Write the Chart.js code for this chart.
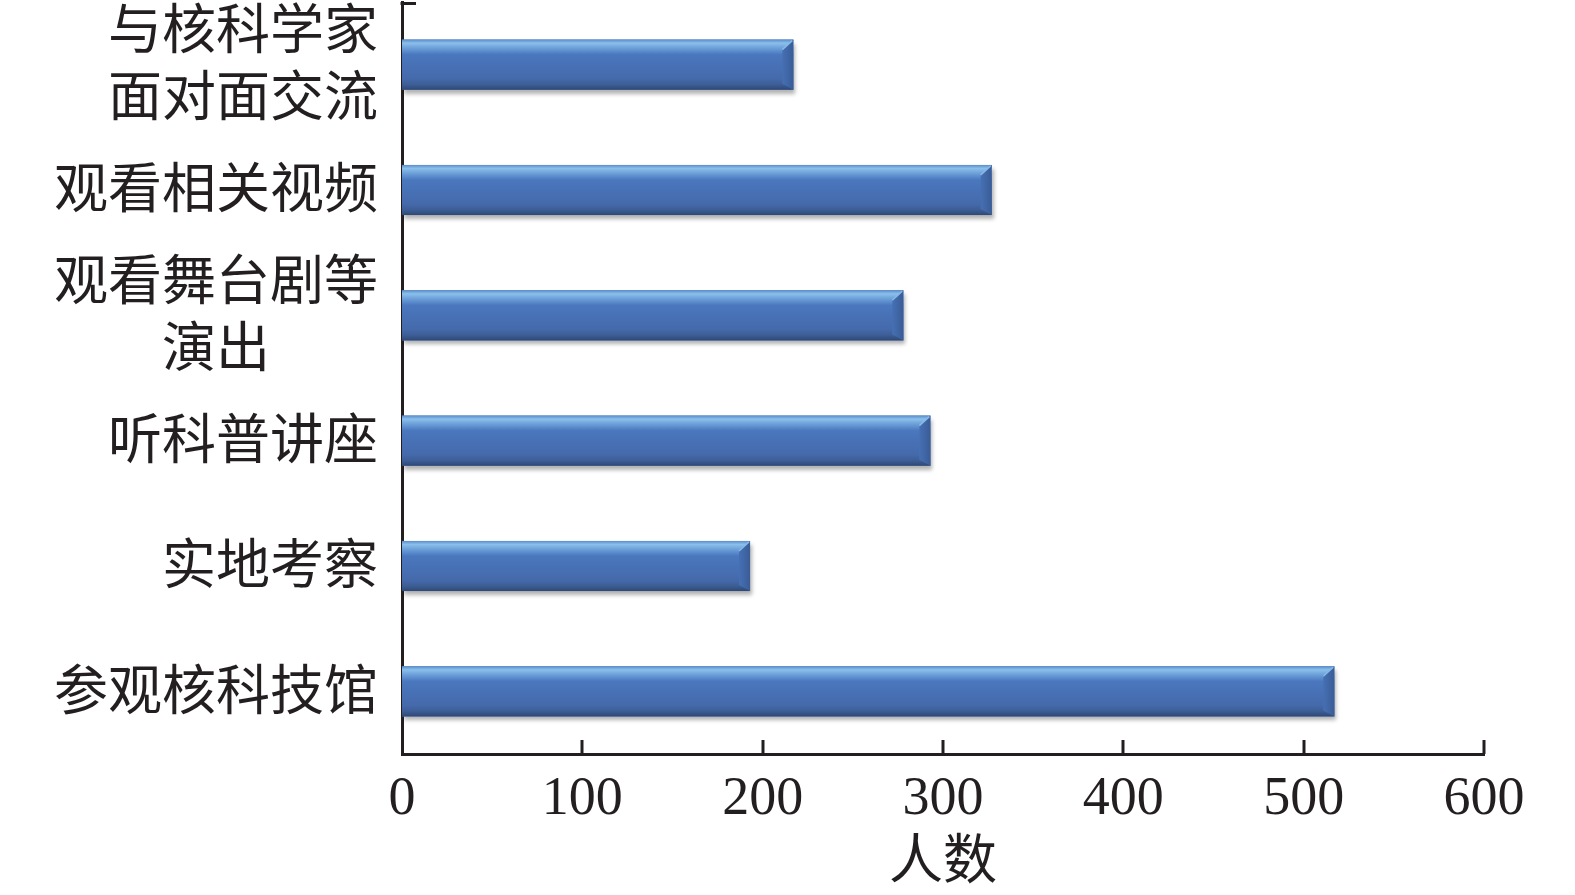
<!DOCTYPE html>
<html>
<head>
<meta charset="utf-8">
<script src="https://cdn.jsdelivr.net/npm/chart.js@4/dist/chart.umd.min.js"></script>
<style>
  html, body { margin: 0; padding: 0; background: #ffffff; }
  #wrap { width: 1575px; height: 895px; position: relative; }
</style>
</head>
<body>
<div id="wrap"><canvas id="c" width="1575" height="895"></canvas></div>
<script>
const categories = [
  ["与核科学家", "面对面交流"],
  "观看相关视频",
  ["观看舞台剧等", "演出\u3000\u3000"],
  "听科普讲座",
  "实地考察",
  "参观核科技馆"
];
const counts = [217, 327, 278, 293, 193, 517];
const xTicks = [0, 100, 200, 300, 400, 500, 600];
const axisTitle = "人数";

const FONT = '"Liberation Serif", "Noto Sans CJK SC", serif';
const INK = '#231f20';

const bevelPlugin = {
  id: 'bevel',
  beforeDatasetsDraw(chart) {
    const ctx = chart.ctx;
    ctx.save();
    ctx.shadowColor = 'rgba(0,0,0,0.30)';
    ctx.shadowOffsetX = 2;
    ctx.shadowOffsetY = 4;
    ctx.shadowBlur = 4;
  },
  afterDatasetsDraw(chart) {
    const ctx = chart.ctx;
    ctx.restore();
    const meta = chart.getDatasetMeta(0);
    meta.data.forEach(el => {
      const p = el.getProps(['x', 'y', 'base', 'height'], true);
      const top = p.y - p.height / 2, bottom = p.y + p.height / 2;
      const left = Math.min(p.base, p.x), right = Math.max(p.base, p.x);
      const h = bottom - top;
      const g = ctx.createLinearGradient(0, top, 0, bottom);
      g.addColorStop(0, '#5a8ccd');
      g.addColorStop(0.07, '#8ac0ea');
      g.addColorStop(0.17, '#6c9fd9');
      g.addColorStop(0.30, '#4a77be');
      g.addColorStop(0.78, '#456aab');
      g.addColorStop(0.90, '#3c5d95');
      g.addColorStop(1, '#2e4874');
      ctx.save();
      ctx.fillStyle = g;
      ctx.fillRect(left, top, right - left, h);
      const bw = 11;
      const rg = ctx.createLinearGradient(right - bw, 0, right, 0);
      rg.addColorStop(0, '#4670b4');
      rg.addColorStop(1, '#3a5c96');
      ctx.fillStyle = rg;
      ctx.beginPath();
      ctx.moveTo(right - bw, top + h * 0.2);
      ctx.lineTo(right, top);
      ctx.lineTo(right, bottom);
      ctx.lineTo(right - bw, bottom - h * 0.12);
      ctx.closePath();
      ctx.fill();
      ctx.strokeStyle = 'rgba(140,190,235,0.9)';
      ctx.lineWidth = 1.5;
      ctx.beginPath();
      ctx.moveTo(right - bw, top + h * 0.2);
      ctx.lineTo(right - 1, top + 1);
      ctx.stroke();
      ctx.restore();
    });
  },
  afterDraw(chart) {
    const ctx = chart.ctx;
    const xs = chart.scales.x, ys = chart.scales.y;
    ctx.save();
    ctx.strokeStyle = INK;
    ctx.lineWidth = 3;
    ctx.lineCap = 'butt';
    xTicks.forEach(v => {
      if (v === 0) return;
      const px = Math.round(xs.getPixelForValue(v));
      ctx.beginPath();
      ctx.moveTo(px, xs.top);
      ctx.lineTo(px, xs.top - 14);
      ctx.stroke();
    });
    ctx.beginPath();
    ctx.moveTo(ys.right - 1.5, ys.top + 1.5);
    ctx.lineTo(ys.right + 14, ys.top + 1.5);
    ctx.stroke();
    ctx.restore();
  }
};

new Chart(document.getElementById('c'), {
  type: 'bar',
  data: {
    labels: categories,
    datasets: [{
      data: counts,
      backgroundColor: '#4a72b8',
      borderWidth: 0,
      barPercentage: 0.8,
      categoryPercentage: 0.5
    }]
  },
  plugins: [bevelPlugin],
  options: {
    indexAxis: 'y',
    responsive: false,
    animation: false,
    devicePixelRatio: 1,
    layout: { padding: { left: 0, right: 91, top: 2, bottom: 0 } },
    plugins: { legend: { display: false }, tooltip: { enabled: false } },
    scales: {
      x: {
        min: 0, max: 600,
        afterBuildTicks(scale) { scale.ticks = xTicks.map(v => ({ value: v })); },
        afterFit(scale) { scale.height = 141; scale.paddingLeft = 0; scale.paddingRight = 0; },
        grid: { display: false, drawTicks: false },
        border: { display: true, color: INK, width: 3 },
        ticks: { color: INK, padding: 13, font: { family: FONT, size: 54 }, maxRotation: 0 },
        title: {
          display: true, text: axisTitle, color: INK,
          font: { family: FONT, size: 54, lineHeight: 1 },
          padding: { top: 0, bottom: 3 }
        }
      },
      y: {
        afterFit(scale) { scale.width = 402; scale.paddingTop = 0; scale.paddingBottom = 0; },
        grid: { display: false, drawTicks: false },
        border: { display: true, color: INK, width: 3 },
        ticks: { color: INK, padding: 24, labelOffset: 4, font: { family: FONT, size: 54, lineHeight: 1.24 }, autoSkip: false }
      }
    }
  }
});
</script>
</body>
</html>
